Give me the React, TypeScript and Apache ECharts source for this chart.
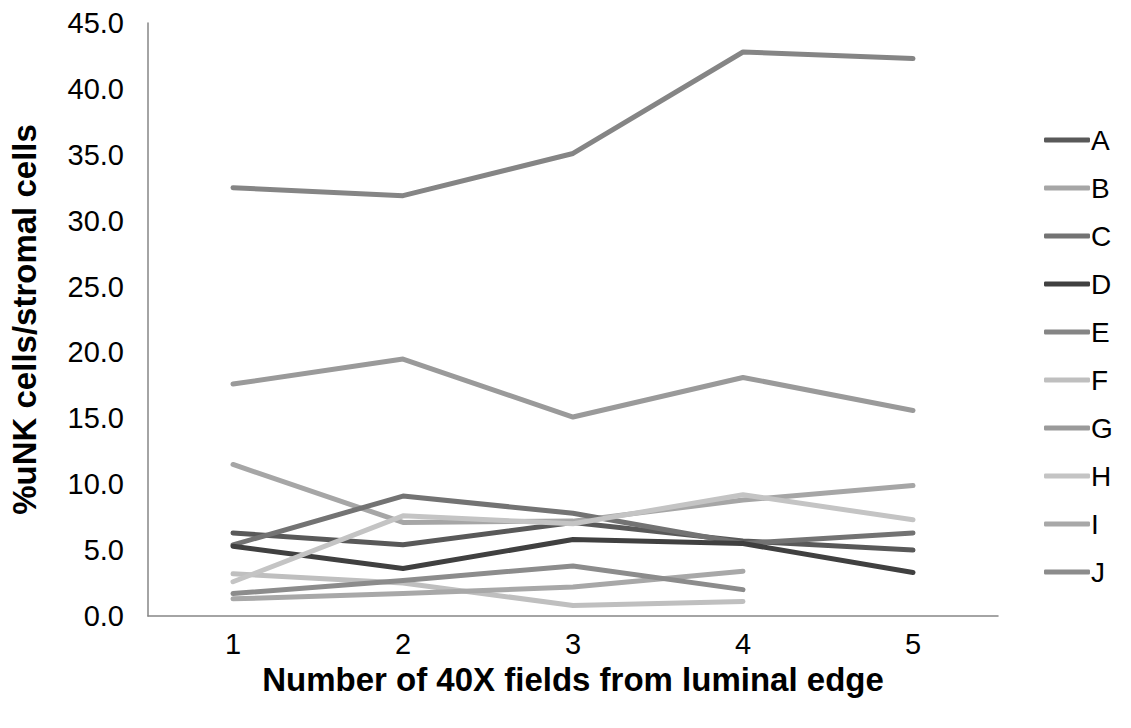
import React, { useEffect, useRef } from "react";
import * as echarts from "echarts";

const categories = ["1", "2", "3", "4", "5"];
const seriesNames = ["A", "B", "C", "D", "E", "F", "G", "H", "I", "J"];
const seriesColors = ["#595959", "#a6a6a6", "#737373", "#404040", "#858585", "#bfbfbf", "#9a9a9a", "#c4c4c4", "#a8a8a8", "#8c8c8c"];
const A = [6.3, 5.4, 7.1, 5.7, 5.0];
const B = [11.5, 7.1, 7.2, 8.8, 9.9];
const C = [5.4, 9.1, 7.8, 5.5, 6.3];
const D = [5.3, 3.6, 5.8, 5.5, 3.3];
const E = [32.5, 31.9, 35.1, 42.8, 42.3];
const F = [3.2, 2.5, 0.8, 1.1, null];
const G = [17.6, 19.5, 15.1, 18.1, 15.6];
const H = [2.6, 7.6, 7.0, 9.2, 7.3];
const I = [1.3, 1.7, 2.2, 3.4, null];
const J = [1.7, 2.7, 3.8, 2.0, null];
const yTicks = [0, 5, 10, 15, 20, 25, 30, 35, 40, 45];
const seriesData = [A, B, C, D, E, F, G, H, I, J];

export default function App() {
  const ref = useRef<HTMLDivElement>(null);
  useEffect(() => {
    if (!ref.current) return;
    const chart = echarts.init(ref.current, undefined, { renderer: "svg" });
    const font = "Liberation Sans, Arial, sans-serif";
    chart.setOption({
      animation: false,
      backgroundColor: "#ffffff",
      grid: { left: 142, right: 133, top: 23, bottom: 112, containLabel: false },
      xAxis: {
        type: "category",
        data: categories,
        boundaryGap: true,
        axisLine: { lineStyle: { color: "#868686", width: 1.5 } },
        axisTick: { show: false },
        axisLabel: { color: "#000", fontSize: 29, fontFamily: font, margin: 13 },
        name: "Number of 40X fields from luminal edge",
        nameLocation: "middle",
        nameGap: 35,
        nameTextStyle: { color: "#000", fontSize: 33, fontWeight: "bold", fontFamily: font },
      },
      yAxis: {
        type: "value",
        min: yTicks[0],
        max: yTicks[yTicks.length - 1],
        interval: 5,
        axisLine: { show: true, lineStyle: { color: "#868686", width: 1.5 } },
        axisTick: { show: false },
        splitLine: { show: false },
        axisLabel: {
          color: "#000",
          fontSize: 29,
          fontFamily: font,
          margin: 24,
          formatter: (v: number) => v.toFixed(1),
        },
        name: "%uNK cells/stromal cells",
        nameLocation: "middle",
        nameGap: 107,
        nameRotate: 90,
        nameTextStyle: { color: "#000", fontSize: 33, fontWeight: "bold", fontFamily: font },
      },
      legend: {
        orient: "vertical",
        left: 1039,
        top: 121,
        icon: "roundRect",
        itemWidth: 46,
        itemHeight: 5,
        itemGap: 20,
        data: seriesNames,
        textStyle: { color: "#000", fontSize: 28, fontFamily: font, padding: [0, 0, 0, -4] },
      },
      series: seriesNames.map((name, i) => ({
        name,
        type: "line",
        data: seriesData[i],
        symbol: "none",
        color: seriesColors[i],
        connectNulls: false,
        lineStyle: { width: 5, color: seriesColors[i], cap: "round", join: "round" },
      })),
    });
    return () => chart.dispose();
  }, []);
  return <div ref={ref} style={{ width: 1131, height: 728, position: "absolute", left: 0, top: 0 }} />;
}
